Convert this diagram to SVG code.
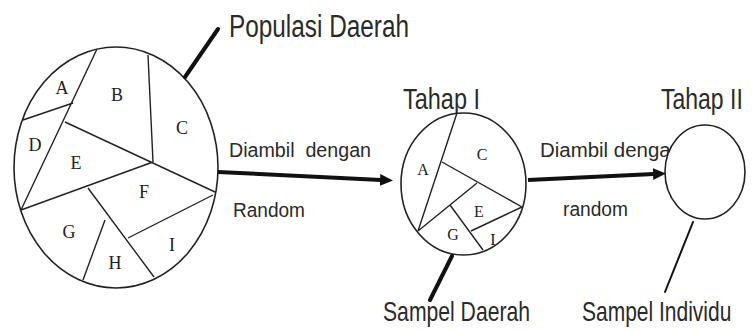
<svg xmlns="http://www.w3.org/2000/svg" width="752" height="331" viewBox="0 0 752 331">
<defs>
<style>
.c{fill:#fff;stroke:#222;stroke-width:1.6}
.l{stroke:#222;stroke-width:1.4;fill:none}
.s{font-family:"Liberation Serif","Times New Roman",serif;fill:#222;text-anchor:middle}
.t{font-family:"Liberation Sans",Arial,sans-serif;fill:#2a2a2a}
.a{stroke:#111;stroke-width:4;fill:none}
.p{stroke:#111;fill:none;stroke-linecap:round}
</style>
<marker id="ah" markerUnits="userSpaceOnUse" markerWidth="14" markerHeight="14" refX="1" refY="7" orient="auto">
<path d="M0,1 L13,7 L0,13 Z" fill="#111"/>
</marker>
</defs>
<rect width="752" height="331" fill="#fff"/>

<g id="populasi-daerah">
<ellipse class="c" cx="116" cy="167.5" rx="102" ry="120.5"/>
<path class="l" d="M97,49 L21,210 M23,120 L73,103 M148,55 L153,162 M65,122 L215,192 M21,210 L153,162 M88,188 L154,277 M105,220 L83,280 M128,238 L213,195"/>
<g class="s" font-size="18">
<text x="62" y="94">A</text>
<text x="117" y="101">B</text>
<text x="182" y="134">C</text>
<text x="35" y="151">D</text>
<text x="76" y="169">E</text>
<text x="144" y="198">F</text>
<text x="69" y="238">G</text>
<text x="115" y="269">H</text>
<text x="172" y="251">I</text>
</g>
</g>

<g id="label-populasi">
<text class="t" x="229" y="37" font-size="31" textLength="180" lengthAdjust="spacingAndGlyphs">Populasi Daerah</text>
</g>

<g id="label-arrow1">
<text class="t" x="229" y="157" font-size="20" textLength="142" lengthAdjust="spacingAndGlyphs">Diambil&#160; dengan</text>
<text class="t" x="233" y="217" font-size="20" textLength="72" lengthAdjust="spacingAndGlyphs">Random</text>
</g>

<g id="tahap-1">
<text class="t" x="403" y="109" font-size="29" textLength="77" lengthAdjust="spacingAndGlyphs">Tahap I</text>
<ellipse class="c" cx="463.5" cy="184" rx="62.5" ry="71"/>
<path class="l" d="M457,113 L418,231 M442,162 L522,207 M418,231 L477,183 M450,205 L483,250 M471,231 L522,207"/>
<g class="s" font-size="16">
<text x="423" y="175">A</text>
<text x="482" y="160">C</text>
<text x="479" y="217">E</text>
<text x="453" y="240">G</text>
<text x="493" y="245">I</text>
</g>
</g>

<g id="label-sampel-daerah">
<text class="t" x="383" y="321" font-size="28" textLength="147" lengthAdjust="spacingAndGlyphs">Sampel Daerah</text>
</g>

<g id="label-arrow2">
<text class="t" x="540" y="157" font-size="20" textLength="142" lengthAdjust="spacingAndGlyphs">Diambil dengan</text>
<text class="t" x="563" y="216" font-size="20" textLength="65" lengthAdjust="spacingAndGlyphs">random</text>
</g>

<g id="tahap-2">
<text class="t" transform="translate(661,109) scale(1,1.3)" x="0" y="0" font-size="23">Tahap II</text>
<ellipse class="c" cx="705" cy="172" rx="40" ry="47"/>
</g>

<g id="label-sampel-individu">
<text class="t" transform="translate(582,321) scale(1,1.35)" x="0" y="0" font-size="21">Sampel Individu</text>
</g>

<g id="connectors">
<line class="a" x1="218" y1="172" x2="381" y2="180" marker-end="url(#ah)"/>
<line class="a" x1="528" y1="180" x2="654" y2="174" marker-end="url(#ah)"/>
<line class="p" stroke-width="4" x1="185" y1="77" x2="218" y2="29"/>
<line class="p" stroke-width="4" x1="452" y1="256" x2="430" y2="300"/>
<line class="p" stroke-width="2" x1="693" y1="222" x2="665" y2="292"/>
</g>
</svg>
